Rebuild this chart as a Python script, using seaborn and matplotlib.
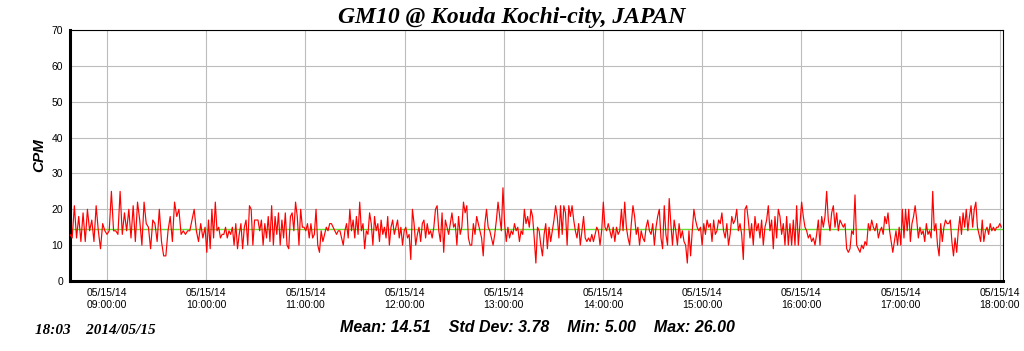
#GM10 counter log, Kouda Kochi-city, 2014/05/15
#CPM readings per chunk

import pandas as pd
import seaborn as sns
import numpy as np
import matplotlib.pyplot as plt
import matplotlib.dates as mdates

# -- data, one list per chunk of the day (start, end, CPM values) --
seg1_span=("2014-05-15 08:37:36","2014-05-15 09:59:18")
seg1=[13,12,21,12,18,11,19,11,20,14,17,11,21,14,9,16,14,13,14,25,14,14,13,25,13,19,14,20,12,21,
	11,22,17,10,22,16,15,9,17,16,11,20,11,7,7,14,18,11,22,18,20,13,14,13,14,14,17,20,14,11,16,12]
seg2_span=("2014-05-15 09:59:18","2014-05-15 11:20:54")
seg2=[15,8,17,9,20,12,22,14,15,12,13,13,15,12,14,13,15,10,16,9,13,16,9,15,17,10,21,20,10,17,
	17,17,14,17,10,16,12,18,11,21,10,18,13,19,10,17,12,19,10,9,18,19,14,22,18,10,20,15,15,14,
	16,12,16,12,13,20,10,8,14,11,13,15,14,16,16,15,14,13,14]
seg3_span=("2014-05-15 11:20:54","2014-05-15 12:42:36")
seg3=[14,12,10,14,16,12,20,14,17,12,18,13,22,14,16,9,14,13,19,16,10,18,14,16,11,17,13,15,12,18,
	10,15,17,13,15,17,12,15,10,14,15,12,13,6,20,16,10,13,15,11,16,17,12,16,13,14,12,15,20,21,
	14,11,19,8,17,15,13,16,19,15,16,10,18,13,15,22,19,21,12,10,10,16]
seg4_span=("2014-05-15 12:42:36","2014-05-15 14:04:12")
seg4=[13,18,16,14,12,7,16,20,15,14,12,10,13,17,22,18,14,26,16,11,15,12,14,13,16,14,15,11,14,13,
	20,16,18,15,20,18,12,5,15,14,10,7,13,16,9,15,11,14,17,21,18,12,21,13,21,19,10,21,18,21,
	17,14,12,16,10,14,18,12,11,12,11,13,11,13,15,14,10,14,22,15,14,16]
seg5_span=("2014-05-15 14:04:12","2014-05-15 15:25:54")
seg5=[14,12,15,11,15,13,14,20,14,22,15,12,10,16,21,18,13,15,10,14,12,11,15,17,14,13,16,10,15,18,
	20,12,9,21,13,10,23,16,10,17,14,10,16,12,14,11,10,5,14,7,14,20,17,15,14,15,10,16,13,17,
	15,16,11,17,13,14,17,16,19,14,12,16,10,13,18,16,17,20,14,16,13,6]
seg6_span=("2014-05-15 15:25:54","2014-05-15 16:47:36")
seg6=[20,21,17,12,16,10,18,14,16,12,17,10,15,17,21,14,17,9,18,12,20,18,13,16,10,18,10,16,10,17,
	10,21,10,16,22,18,15,14,12,13,11,12,10,13,17,10,18,15,18,25,17,14,19,21,15,19,14,17,16,15,
	16,9,8,9,14,13,24,10,9,8,10,9,11,10,16,14,17,15,14,16,12]
seg7_span=("2014-05-15 16:47:36","2014-05-15 18:02:00")
seg7=[14,15,13,18,16,19,14,11,8,11,14,10,15,10,20,12,20,14,20,11,16,18,21,17,12,15,13,14,11,16,
	13,14,12,25,14,16,10,7,16,11,15,17,16,16,17,11,7,12,8,14,18,13,19,15,20,14,18,21,15,20,
	22,15,13,11,17,11,14,15,13,16,14,15,14,15,15,16,15]

mean_cpm=14.51
stats_text="Mean: 14.51    Std Dev: 3.78    Min: 5.00    Max: 26.00"
stamp_text="18:03    2014/05/15"

frames=[]
for (span,vals) in [(seg1_span,seg1),(seg2_span,seg2),(seg3_span,seg3),(seg4_span,seg4),
	(seg5_span,seg5),(seg6_span,seg6),(seg7_span,seg7)]:
	t=pd.date_range(span[0],span[1],periods=len(vals)+1)[:-1]
	frames.append(pd.DataFrame({"time":t,"CPM":vals}))
log=pd.concat(frames).reset_index(drop=True)

# -- plot --
sns.set_style("white")
plt.rcParams["font.family"]=["Liberation Sans","DejaVu Sans"]
plt.rcParams["text.color"]="black"
plt.rcParams["axes.labelcolor"]="black"
plt.rcParams["xtick.color"]="black"
plt.rcParams["ytick.color"]="black"

fig=plt.figure(figsize=(10.24,3.51),dpi=100)
ax=fig.add_axes([70/1024,70/351,933/1024,251/351])

sns.lineplot(data=log,x="time",y="CPM",color="#ff0000",linewidth=0.85,ax=ax,zorder=3)
ax.axhline(mean_cpm,color="#66dd33",linewidth=1.0,zorder=2)

ax.set_ylim(0,70)
ax.set_yticks(range(0,71,10))
ax.set_xlim(pd.Timestamp("2014-05-15 08:37:36"),pd.Timestamp("2014-05-15 18:02:00"))
ax.xaxis.set_major_locator(mdates.HourLocator())
ax.xaxis.set_major_formatter(mdates.DateFormatter("%m/%d/%y\n%H:%M:%S"))
ax.grid(True,color="#bcbcbc",linewidth=0.8)
ax.tick_params(axis="both",labelsize=7.5,length=3,width=0.8,direction="out",pad=2)
ax.tick_params(axis="x",pad=2)
for lbl in ax.get_xticklabels():
	lbl.set_horizontalalignment("center")

for side in ["top","right"]:
	ax.spines[side].set_linewidth(0.8)
	ax.spines[side].set_color("black")
for side in ["left","bottom"]:
	ax.spines[side].set_linewidth(2.2)
	ax.spines[side].set_color("black")

ax.set_xlabel("")
ax.set_ylabel("CPM",fontsize=11,fontweight="bold",fontstyle="italic",labelpad=4)

fig.text(512/1024,1-17/351,"GM10 @ Kouda Kochi-city, JAPAN",ha="center",va="center",
	fontsize=17,fontweight="bold",fontstyle="italic",family=["Liberation Serif","DejaVu Serif"])
fig.text(537/1024,1-327/351,stats_text,ha="center",va="center",
	fontsize=11.5,fontweight="bold",fontstyle="italic")
fig.text(35/1024,1-331/351,stamp_text,ha="left",va="center",
	fontsize=11,fontweight="bold",fontstyle="italic",family=["Liberation Serif","DejaVu Serif"])

plt.savefig("out.png",dpi=100)
